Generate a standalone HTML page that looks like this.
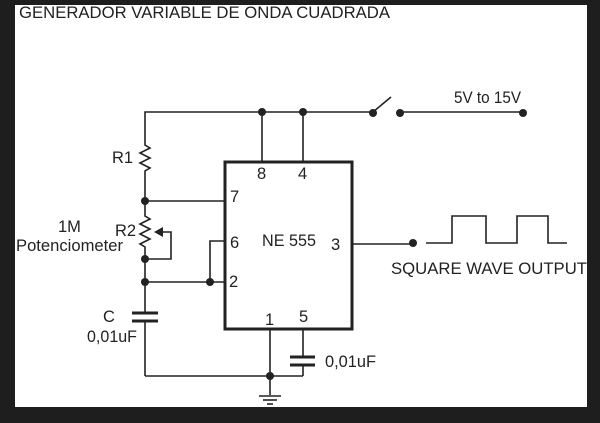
<!DOCTYPE html>
<html><head><style>
html,body{margin:0;padding:0;background:#1e1e1e;}
svg{display:block;}
text{font-family:"Liberation Sans",sans-serif;fill:#222;}
</style></head><body>
<svg width="600" height="423" viewBox="0 0 600 423" xmlns="http://www.w3.org/2000/svg">
<rect x="0" y="0" width="600" height="423" fill="#1e1e1e"/>
<rect x="15" y="5" width="572" height="402" fill="#fff"/>
<text x="19" y="18" font-size="16.6" textLength="371" lengthAdjust="spacingAndGlyphs">GENERADOR VARIABLE DE ONDA CUADRADA</text>
<g stroke="#222" stroke-width="1.6" fill="none">
<polyline points="145,142 145,112 373,112"/>
<line x1="373" y1="112" x2="391" y2="97"/>
<line x1="400" y1="112" x2="523" y2="112"/>
<line x1="262" y1="112" x2="262" y2="162"/>
<line x1="303" y1="112" x2="303" y2="162"/>
<polyline points="145,142 145,145 150,148 140,153 150,158 140,163 150,168 145,171 145,201"/>
<line x1="145" y1="201" x2="225" y2="201"/>
<polyline points="145,201 145,216 150,219 140,224 150,229 140,234 150,239 140,244 145,247 145,313"/>
<polyline points="160,232 171,232 171,259 145,259"/>
<line x1="145" y1="282" x2="225" y2="282"/>
<polyline points="210,282 210,241 225,241"/>
<line x1="145" y1="321" x2="145" y2="376"/>
<line x1="145" y1="376" x2="303" y2="376"/>
<line x1="270" y1="329" x2="270" y2="395"/>
<line x1="303" y1="329" x2="303" y2="357"/>
<line x1="303" y1="365" x2="303" y2="376"/>
<line x1="352" y1="244" x2="412" y2="244"/>
<polyline points="426,243 452,243 452,216 486,216 486,243 517,243 517,216 548,216 548,243 567,243"/>
</g>
<g stroke="#222" stroke-width="3" fill="none">
<line x1="132" y1="313" x2="158" y2="313"/>
<line x1="132" y1="321" x2="158" y2="321"/>
<line x1="290" y1="357" x2="315" y2="357"/>
<line x1="290" y1="365" x2="315" y2="365"/>
<rect x="225" y="162" width="127" height="167"/>
</g>
<g stroke="#222" stroke-width="1.6">
<line x1="259" y1="396" x2="281" y2="396"/>
<line x1="263" y1="400" x2="277" y2="400"/>
<line x1="267" y1="404" x2="273" y2="404"/>
</g>
<polygon points="154,232 163,227 163,237" fill="#222"/>
<g fill="#222">
<circle cx="262" cy="112" r="4"/><circle cx="303" cy="112" r="4"/>
<circle cx="373" cy="113" r="4"/><circle cx="400" cy="113" r="4"/><circle cx="523" cy="113" r="4"/>
<circle cx="145" cy="201" r="4"/><circle cx="145" cy="259" r="4"/><circle cx="145" cy="282" r="4"/>
<circle cx="210" cy="282" r="4"/><circle cx="270" cy="376" r="4"/><circle cx="413" cy="243" r="4"/>
</g>
<g font-size="16.5">
<text x="454" y="103" textLength="67" lengthAdjust="spacingAndGlyphs">5V to 15V</text>
<text x="257" y="179">8</text><text x="298" y="179">4</text>
<text x="230" y="202">7</text><text x="230" y="248">6</text><text x="229" y="287">2</text>
<text x="262" y="246" textLength="54" lengthAdjust="spacingAndGlyphs">NE 555</text><text x="331" y="250">3</text>
<text x="265" y="325">1</text><text x="299" y="322">5</text>
<text x="391" y="274" textLength="196" lengthAdjust="spacingAndGlyphs">SQUARE WAVE OUTPUT</text>
<text x="112" y="163">R1</text><text x="115" y="236">R2</text>
<text x="58" y="232">1M</text><text x="16" y="251" textLength="107" lengthAdjust="spacingAndGlyphs">Potenciometer</text>
<text x="103" y="322">C</text><text x="87" y="342" textLength="50" lengthAdjust="spacingAndGlyphs">0,01uF</text>
<text x="325" y="367" textLength="51" lengthAdjust="spacingAndGlyphs">0,01uF</text>
</g>
</svg>
</body></html>
